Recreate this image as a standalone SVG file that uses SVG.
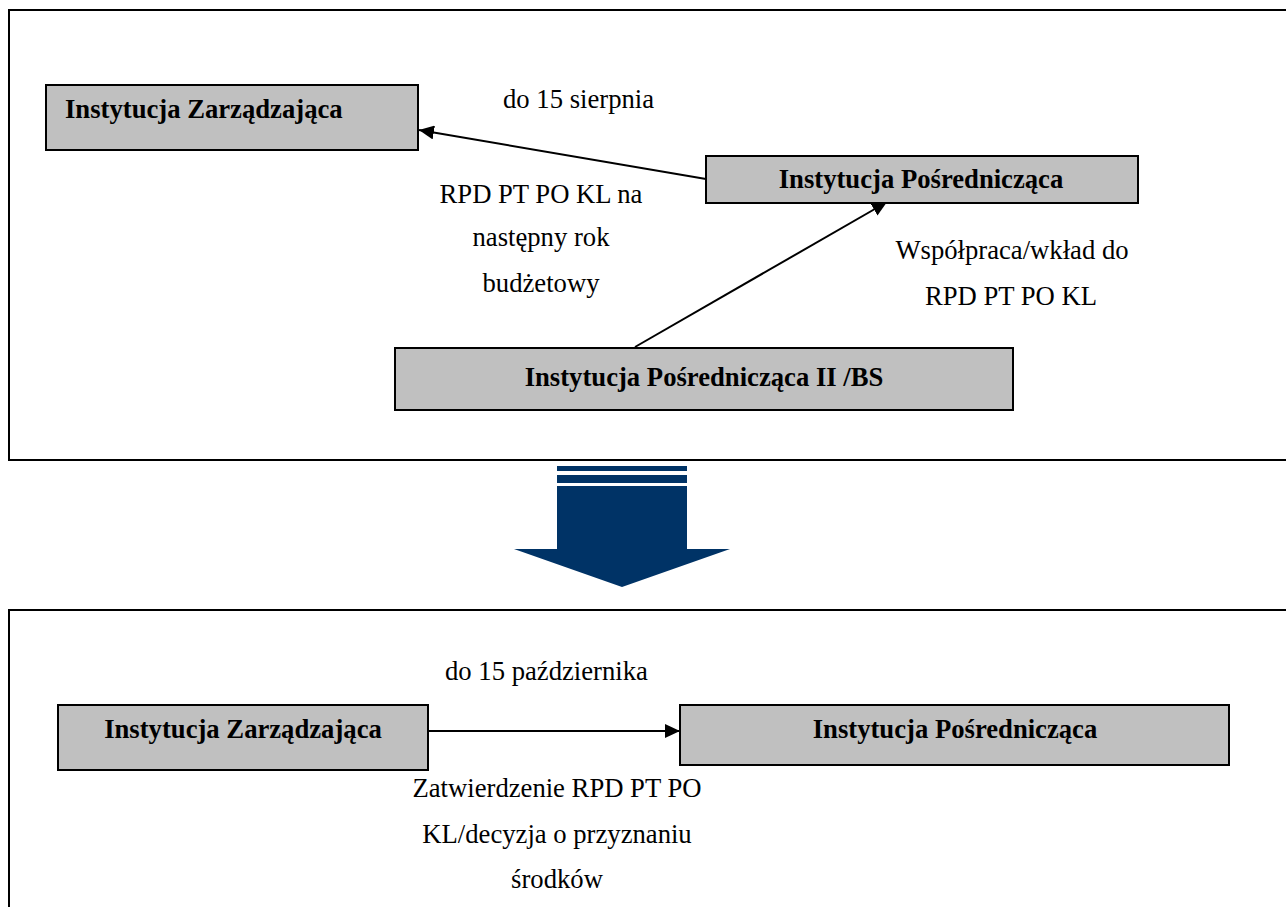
<svg xmlns="http://www.w3.org/2000/svg" width="1286" height="907" viewBox="0 0 1286 907">
<style>
.frame{fill:none;stroke:#000;stroke-width:2}
.box{fill:#C0C0C0;stroke:#000;stroke-width:2}
.lbl{font-family:"Liberation Serif","Times New Roman",serif;font-size:26.67px;font-weight:bold;fill:#000}
.txt{font-family:"Liberation Serif","Times New Roman",serif;font-size:26.67px;fill:#000}
.c{text-anchor:middle}
.conn{fill:none;stroke:#000;stroke-width:2}
</style>
<defs>
<marker id="ah" markerUnits="userSpaceOnUse" markerWidth="16" markerHeight="14" refX="15" refY="7" orient="auto">
<path d="M0,0 L15,7 L0,14 z" fill="#000"/>
</marker>
</defs>
<rect width="1286" height="907" fill="#fff"/>
<g id="frames">
<rect class="frame" x="9" y="10" width="1300" height="450"/>
<rect class="frame" x="9" y="610" width="1300" height="320"/>
</g>
<g id="connectors">
<line class="conn" x1="706" y1="179" x2="419" y2="130" marker-end="url(#ah)"/>
<line class="conn" x1="635" y1="347" x2="887" y2="202" marker-end="url(#ah)"/>
<line class="conn" x1="428" y1="731" x2="680" y2="731" marker-end="url(#ah)"/>
</g>
<g id="iz-top">
<rect class="box" x="46" y="85" width="372" height="65"/>
<text class="lbl" x="65" y="118">Instytucja Zarządzająca</text>
</g>
<g id="ip-top">
<rect class="box" x="706" y="156" width="432" height="47"/>
<text class="lbl c" x="921" y="188">Instytucja Pośrednicząca</text>
</g>
<g id="ip2">
<rect class="box" x="395" y="348" width="618" height="62"/>
<text class="lbl c" x="704" y="386">Instytucja Pośrednicząca II /BS</text>
</g>
<g id="labels-top">
<text class="txt" x="503" y="108">do 15 sierpnia</text>
<text class="txt c" x="541" y="203">RPD PT PO KL na</text>
<text class="txt c" x="541" y="246">następny rok</text>
<text class="txt c" x="541" y="292">budżetowy</text>
<text class="txt c" x="1012" y="259">Współpraca/wkład do</text>
<text class="txt c" x="1011" y="305">RPD PT PO KL</text>
</g>
<g id="big-arrow" fill="#003366">
<rect x="557" y="466" width="130" height="5"/>
<rect x="557" y="475" width="130" height="8"/>
<polygon points="557,486 687,486 687,549 730,549 622,587 514,549 557,549"/>
</g>
<g id="iz-bottom">
<rect class="box" x="58" y="705" width="370" height="65"/>
<text class="lbl c" x="243" y="738">Instytucja Zarządzająca</text>
</g>
<g id="ip-bottom">
<rect class="box" x="680" y="705" width="549" height="60"/>
<text class="lbl c" x="955" y="738">Instytucja Pośrednicząca</text>
</g>
<g id="labels-bottom">
<text class="txt" x="445" y="680">do 15 października</text>
<text class="txt c" x="557" y="797">Zatwierdzenie RPD PT PO</text>
<text class="txt c" x="557" y="843">KL/decyzja o przyznaniu</text>
<text class="txt c" x="557" y="888">środków</text>
</g>
</svg>
